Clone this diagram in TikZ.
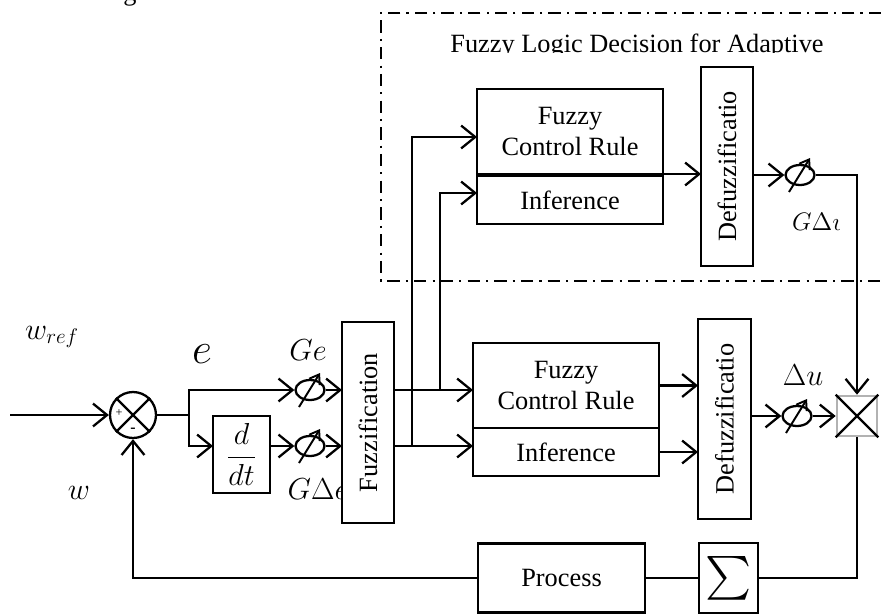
\documentclass[tikz,border=0pt]{standalone}
\usepackage{amsmath}
\usepackage{graphicx}
\usepackage{fontspec}
\setmainfont{Liberation Serif}
\usetikzlibrary{arrows.meta, shapes.geometric, calc}

\begin{document}
\begin{tikzpicture}[x=0.02cm, y=-0.02cm, line width=1.3pt,
    font=\fontsize{15}{18}\selectfont,
    >={Straight Barb[length=8pt,width=13pt]},
    box/.style={draw, fill=white, inner sep=0pt, outer sep=0pt, align=center},
    gain/.style={draw, ellipse, minimum width=0.58cm, minimum height=0.4cm, inner sep=0pt},
    lab/.style={inner sep=0pt, font=\fontsize{17.28}{20}\selectfont}]
    \useasboundingbox (0,0) rectangle (881,615);

    % adaptive part, dash-dot frame
    \draw[line width=1.1pt, dash pattern=on 7pt off 3.5pt on 1.2pt off 3.5pt]
        (881,13) -- (381,13) -- (381,281) -- (881,281);
    \begin{scope}
        \clip (381,20) rectangle (881,53);
        \node[inner sep=0pt, anchor=base] (title) at (637,52) {Fuzzy Logic Decision for Adaptive};
    \end{scope}
    \node[inner sep=0pt, anchor=base] (lg) at (130,1) {g};

    % summing junction
    \node[draw, circle, minimum size=0.92cm, inner sep=0pt] (sum) at (133,415) {};
    \draw (sum.45) -- (sum.225);
    \draw (sum.135) -- (sum.-45);
    \node[inner sep=0pt, font=\fontsize{7}{8}\selectfont] (plus) at (119,413) {+};
    \node[inner sep=0pt, font=\fontsize{9}{10}\selectfont\bfseries] (minus) at (133,430) {-};
    \coordinate (win) at (10,415);
    \coordinate (split) at ($(sum.east)+(32,0)$);

    % gains and derivative
    \node[box, minimum width=1.14cm, minimum height=1.54cm, font=\fontsize{17.28}{20}\selectfont] (ddt) at (241.5,454.5) {$\dfrac{d}{dt}$};
    \node[gain] (ge) at (310,390) {};
    \node[gain] (gde) at (310,446) {};
    \node[lab] (lge) at (308,350) {$Ge$};
    \node[lab] (lgde) at (318,489) {$G\Delta e$};
    \node[lab, font=\fontsize{24.88}{28}\selectfont] (le) at (202,354) {$e$};
    \node[lab] (lwref) at (52,337) {$w_{ref}$};
    \node[lab] (lw) at (79,493) {$w$};

    % fuzzifier
    \node[box, minimum width=1.04cm, minimum height=4.02cm] (fuzz) at (368,422.5) {\rotatebox{90}{Fuzzification}};

    % main rule base
    \node[box, minimum width=3.72cm, minimum height=1.7cm] (rule2) at (566,385.5) {Fuzzy\\Control Rule};
    \node[box, minimum width=3.72cm, minimum height=0.96cm] (inf2) at (566,452) {Inference};
    \node[box, minimum width=1.06cm, minimum height=4cm] (dfz2) at (724.5,419) {\rotatebox{90}{Defuzzificatio}};
    \node[gain] (gdv) at (797,416) {};
    \node[lab] (ldu) at (803,375) {$\Delta u$};

    % adaptive rule base
    \node[box, minimum width=3.72cm, minimum height=1.7cm] (rule1) at (570,131.5) {Fuzzy\\Control Rule};
    \node[box, minimum width=3.72cm, minimum height=0.96cm] (inf1) at (570,200) {Inference};
    \node[box, minimum width=1.04cm, minimum height=3.98cm] (dfz1) at (727,166.5) {\rotatebox{90}{Defuzzificatio}};
    \node[gain] (gdu) at (800,175) {};
    \begin{scope}
        \clip (780,200) rectangle (839,245);
        \node[lab, anchor=west, font=\fontsize{14.4}{17}\selectfont] (lgdu) at (791,222) {$G\Delta u$};
    \end{scope}

    % output stage
    \node[draw=gray!60, line width=1.5pt, minimum size=0.8cm, inner sep=0pt] (mult) at (857,416) {};
    \draw (mult.north west) -- (mult.south east);
    \draw (mult.north east) -- (mult.south west);
    \node[box, minimum width=1.18cm, minimum height=1.4cm] (sig) at (728.5,578) {\fontsize{24.88}{28}\selectfont$\sum$};
    \node[box, minimum width=3.34cm, minimum height=1.38cm] (proc) at (561.5,578) {Process};

    % gain arrows
    \foreach \g in {ge,gde,gdu,gdv}
        \draw[line width=1.1pt, -{Straight Barb[length=5pt,width=7pt]}] ($(\g)+(-11,17)$) -- ($(\g)+(10,-17)$);

    % connections
    \draw[->] (win) -- (sum.west);
    \draw (sum.east) -- (split);
    \draw[->] (split) |- (ge.west);
    \draw[->] (split) |- (ddt.west |- gde);
    \draw[->] (ddt.east |- gde) -- (gde.west);
    \draw[->] (ge.east) -- (fuzz.west |- ge);
    \draw[->] (gde.east) -- (fuzz.west |- gde);

    \coordinate (ja) at ($(fuzz.east |- gde)+(18,0)$);
    \coordinate (jb) at ($(fuzz.east |- ge)+(46,0)$);
    \draw[->] (fuzz.east |- ge) -- (rule2.west |- ge);
    \draw[->] (fuzz.east |- gde) -- (inf2.west |- gde);
    \draw[->] (ja) |- ($(rule1.west)+(0,5.5)$);
    \draw[->] (jb) |- ($(inf1.west)+(0,-7)$);

    \draw[->] (rule2.east) -- (rule2.east -| dfz2.west);
    \draw[->] (inf2.east) -- (inf2.east -| dfz2.west);
    \draw[->] (rule1.south east) -- (rule1.south east -| dfz1.west);

    \draw[->] (dfz1.east |- gdu) -- (gdu.west);
    \draw[->] (gdu.east) -| (mult.north);
    \draw[->] (dfz2.east |- gdv) -- (gdv.west);
    \draw[->] (gdv.east) -- (mult.west);

    \draw (mult.south) |- (sig.east);
    \draw (sig.west) -- (proc.east);
    \draw[->] (proc.west) -| (sum.south);
\end{tikzpicture}
\end{document}
